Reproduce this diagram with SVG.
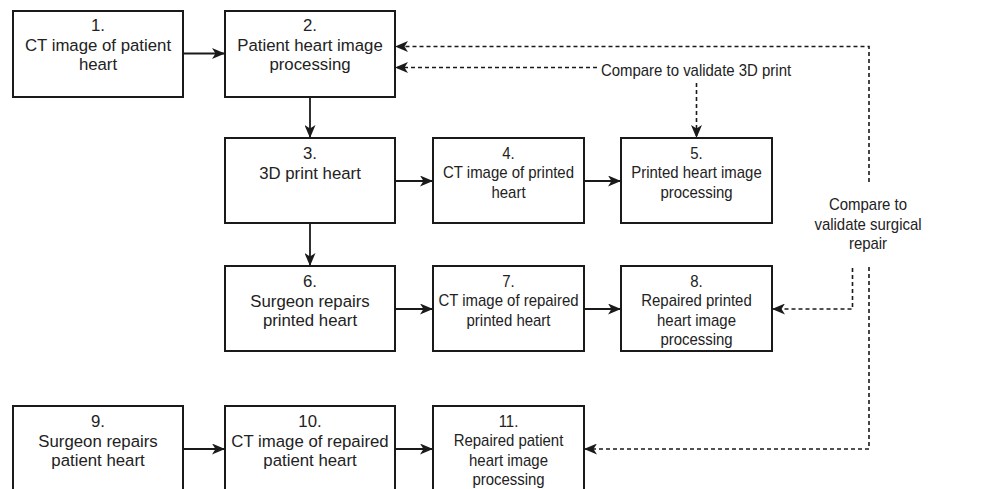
<svg xmlns="http://www.w3.org/2000/svg" width="989" height="489" viewBox="0 0 989 489">
<style>
.box{fill:#fff;stroke:#1a1a1a;stroke-width:2}
.t{font-family:"Liberation Sans",Arial,sans-serif;font-size:16.8px;fill:#222;text-anchor:middle}
.line{fill:none;stroke:#1a1a1a;stroke-width:1.8}
.dash{fill:none;stroke:#1a1a1a;stroke-width:1.6;stroke-dasharray:4 3}
</style>
<defs>
<marker id="arr" viewBox="0 0 13 11" refX="13" refY="5.5" markerWidth="13" markerHeight="11" markerUnits="userSpaceOnUse" orient="auto">
<path d="M0,0 L13,5.5 L0,11 L3.5,5.5 Z" fill="#1a1a1a"/>
</marker>
</defs>
<rect width="989" height="489" fill="#fff"/>
<g id="n1"><rect class="box" x="13" y="11" width="170" height="86"/>
<text class="t"><tspan x="98" y="31">1.</tspan><tspan x="98" y="50.5">CT image of patient</tspan><tspan x="98" y="70">heart</tspan></text></g>
<g id="n2"><rect class="box" x="225" y="11" width="170" height="86"/>
<text class="t"><tspan x="310" y="31">2.</tspan><tspan x="310" y="50.5">Patient heart image</tspan><tspan x="310" y="70">processing</tspan></text></g>
<g id="n3"><rect class="box" x="225" y="138" width="170" height="85"/>
<text class="t"><tspan x="310" y="159">3.</tspan><tspan x="310" y="178.5">3D print heart</tspan></text></g>
<g id="n4"><rect class="box" x="433" y="138" width="151" height="85"/>
<text class="t" transform="matrix(0.89 0 0 1 508.5 0)"><tspan x="0" y="159">4.</tspan><tspan x="0" y="178.5">CT image of printed</tspan><tspan x="0" y="198">heart</tspan></text></g>
<g id="n5"><rect class="box" x="621" y="138" width="151" height="85"/>
<text class="t" transform="matrix(0.89 0 0 1 696.5 0)"><tspan x="0" y="159">5.</tspan><tspan x="0" y="178.5">Printed heart image</tspan><tspan x="0" y="198">processing</tspan></text></g>
<g id="n6"><rect class="box" x="225" y="266" width="170" height="85"/>
<text class="t"><tspan x="310" y="287">6.</tspan><tspan x="310" y="306.5">Surgeon repairs</tspan><tspan x="310" y="326">printed heart</tspan></text></g>
<g id="n7"><rect class="box" x="433" y="266" width="151" height="85"/>
<text class="t" transform="matrix(0.89 0 0 1 508.5 0)"><tspan x="0" y="287">7.</tspan><tspan x="0" y="306.5">CT image of repaired</tspan><tspan x="0" y="326">printed heart</tspan></text></g>
<g id="n8"><rect class="box" x="621" y="266" width="151" height="85"/>
<text class="t" transform="matrix(0.89 0 0 1 696.5 0)"><tspan x="0" y="287">8.</tspan><tspan x="0" y="306.5">Repaired printed</tspan><tspan x="0" y="326">heart image</tspan><tspan x="0" y="345.5">processing</tspan></text></g>
<g id="n9"><rect class="box" x="13" y="406" width="170" height="85"/>
<text class="t"><tspan x="98" y="427">9.</tspan><tspan x="98" y="446.5">Surgeon repairs</tspan><tspan x="98" y="466">patient heart</tspan></text></g>
<g id="n10"><rect class="box" x="225" y="406" width="170" height="85"/>
<text class="t"><tspan x="310" y="427">10.</tspan><tspan x="310" y="446.5">CT image of repaired</tspan><tspan x="310" y="466">patient heart</tspan></text></g>
<g id="n11"><rect class="box" x="433" y="406" width="151" height="85"/>
<text class="t" transform="matrix(0.89 0 0 1 508.5 0)"><tspan x="0" y="427">11.</tspan><tspan x="0" y="446.5">Repaired patient</tspan><tspan x="0" y="466">heart image</tspan><tspan x="0" y="485.5">processing</tspan></text></g>
<g id="connectors">
<path class="line" d="M183,53.5 H225" marker-end="url(#arr)"/>
<path class="line" d="M310,97 V138" marker-end="url(#arr)"/>
<path class="line" d="M395,181 H433" marker-end="url(#arr)"/>
<path class="line" d="M584,181 H621" marker-end="url(#arr)"/>
<path class="line" d="M310,223 V266" marker-end="url(#arr)"/>
<path class="line" d="M395,309 H433" marker-end="url(#arr)"/>
<path class="line" d="M584,309 H621" marker-end="url(#arr)"/>
<path class="line" d="M183,449 H225" marker-end="url(#arr)"/>
<path class="line" d="M395,449 H433" marker-end="url(#arr)"/>
<path class="dash" d="M869,182 V46.5 H395" marker-end="url(#arr)"/>
<path class="dash" d="M597,67.5 H395" marker-end="url(#arr)"/>
<path class="dash" d="M696.5,83 V138" marker-end="url(#arr)"/>
<path class="dash" d="M852.5,268 V309 H772" marker-end="url(#arr)"/>
<path class="dash" d="M869,267 V449 H584" marker-end="url(#arr)"/>
<text class="t" transform="matrix(0.89 0 0 1 696 0)"><tspan x="0" y="76">Compare to validate 3D print</tspan></text>
<text class="t" transform="matrix(0.89 0 0 1 868 0)"><tspan x="0" y="210.5">Compare to</tspan><tspan x="0" y="230">validate surgical</tspan><tspan x="0" y="249.5">repair</tspan></text>
</g>
</svg>
